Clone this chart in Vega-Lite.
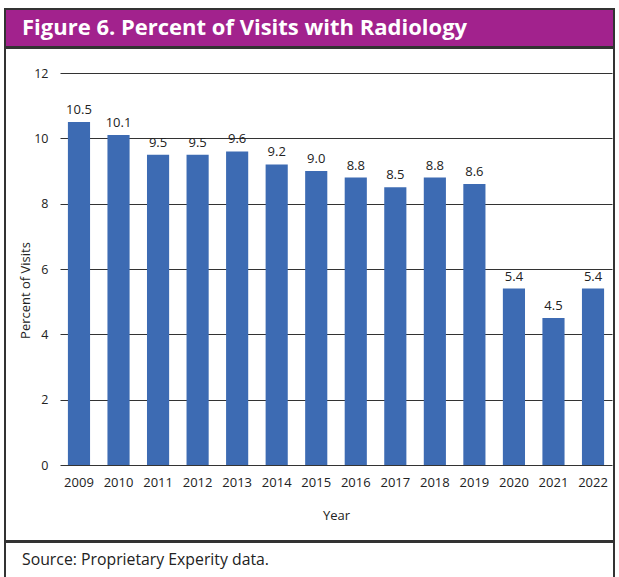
{
  "$schema": "https://vega.github.io/schema/vega-lite/v6.json",
  "background": "white",
  "padding": {"left": 4, "top": 8, "right": 4, "bottom": 0},
  "spacing": -2,
  "config": {"font": "Open Sans", "text": {"font": "Open Sans"}},
  "vconcat": [
    {
      "width": 609,
      "height": 38,
      "view": {"fill": "#A2228D", "stroke": "#333333", "strokeWidth": 2},
      "data": {"values": [{"title": "Figure 6. Percent of Visits with Radiology"}]},
      "mark": {"type": "text", "align": "left", "baseline": "middle", "fontWeight": "bold", "fontSize": 22, "color": "white"},
      "encoding": {
        "text": {"field": "title", "type": "nominal"},
        "x": {"datum": 0, "type": "quantitative", "scale": {"domain": [0, 1], "range": [17, 600]}, "axis": null}
      }
    },
    {
      "width": 609,
      "height": 493,
      "view": {"fill": "white", "stroke": "#333333", "strokeWidth": 2},
      "data": {
        "values": [
          {"year": "2009", "pct": 10.5},
          {"year": "2010", "pct": 10.1},
          {"year": "2011", "pct": 9.5},
          {"year": "2012", "pct": 9.5},
          {"year": "2013", "pct": 9.6},
          {"year": "2014", "pct": 9.2},
          {"year": "2015", "pct": 9.0},
          {"year": "2016", "pct": 8.8},
          {"year": "2017", "pct": 8.5},
          {"year": "2018", "pct": 8.8},
          {"year": "2019", "pct": 8.6},
          {"year": "2020", "pct": 5.4},
          {"year": "2021", "pct": 4.5},
          {"year": "2022", "pct": 5.4}
        ]
      },
      "encoding": {
        "x": {
          "field": "year",
          "type": "ordinal",
          "scale": {"range": [55, 607], "paddingInner": 0.44, "paddingOuter": 0.2},
          "axis": {
            "orient": "bottom",
            "offset": -76,
            "domain": false,
            "ticks": false,
            "tickSize": 0,
            "grid": false,
            "labelAngle": 0,
            "labelPadding": 17,
            "labelBaseline": "middle",
            "labelFontSize": 13,
            "labelColor": "#222222",
            "title": "Year",
            "titleFontSize": 13,
            "titleFontWeight": "normal",
            "titleColor": "#222222",
            "titleBaseline": "middle",
            "titleY": 50
          }
        },
        "y": {
          "field": "pct",
          "type": "quantitative",
          "scale": {"domain": [0, 12], "range": [417, 25], "nice": false, "zero": true},
          "axis": {
            "values": [0, 2, 4, 6, 8, 10, 12],
            "offset": -55,
            "grid": true,
            "gridColor": "#333333",
            "gridWidth": 1.2,
            "gridOpacity": 1,
            "domain": false,
            "ticks": false,
            "tickSize": 0,
            "labelPadding": 12,
            "labelFontSize": 12.5,
            "labelColor": "#222222",
            "title": "Percent of Visits",
            "titleFontSize": 13,
            "titleFontWeight": "normal",
            "titleColor": "#222222",
            "titleAngle": -90,
            "titleAlign": "center",
            "titleBaseline": "middle",
            "titleX": -35,
            "titleY": 242
          }
        }
      },
      "layer": [
        {"mark": {"type": "bar", "color": "#3D6BB3"}},
        {
          "mark": {"type": "text", "baseline": "alphabetic", "dy": -8, "fontSize": 13, "color": "#222222"},
          "encoding": {"text": {"field": "pct", "type": "quantitative", "format": ".1f"}}
        }
      ]
    },
    {
      "width": 609,
      "height": 36,
      "view": {"fill": "white", "stroke": "#333333", "strokeWidth": 2, "strokeDash": [645, 609, 36]},
      "data": {"values": [{"note": "Source: Proprietary Experity data."}]},
      "mark": {"type": "text", "align": "left", "baseline": "middle", "fontSize": 15.8, "color": "#222222"},
      "encoding": {
        "text": {"field": "note", "type": "nominal"},
        "x": {"datum": 0, "type": "quantitative", "scale": {"domain": [0, 1], "range": [17, 600]}, "axis": null}
      }
    }
  ]
}
